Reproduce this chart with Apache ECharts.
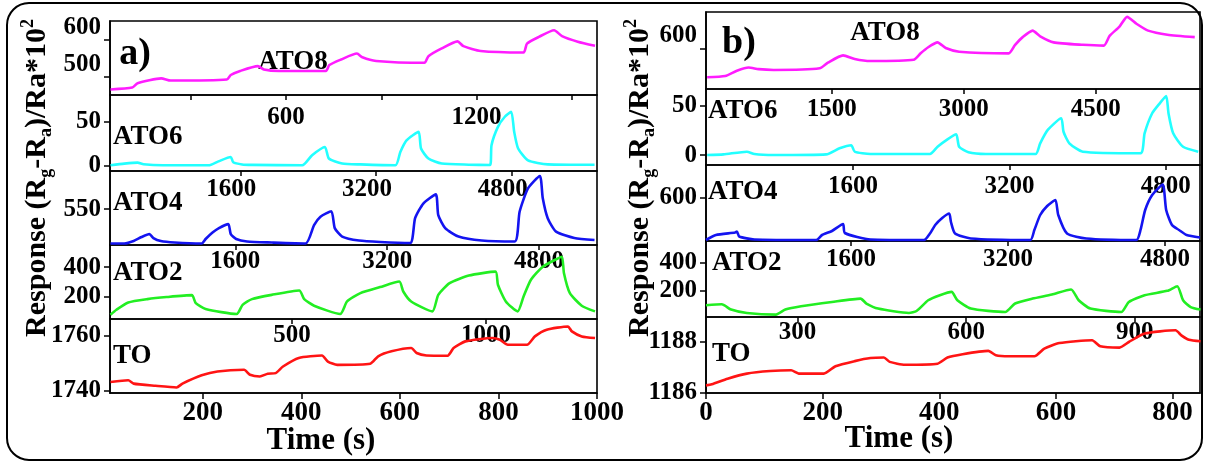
<!DOCTYPE html>
<html><head><meta charset="utf-8">
<script src="https://cdn.jsdelivr.net/npm/echarts@6/dist/echarts.min.js"></script>
<style>html,body{margin:0;padding:0;background:#fff}#c{width:1205px;height:462px}</style>
</head><body><div id="c"></div>
<script>
// ---------- data (time in s on the bottom axis, response values) ----------
const aATO8 = [[13,467],[57,472],[68,484],[116,497],[135,491],[249,494],[257,506],[276,517],[312,530],[324,521],[355,517],[450,517],[457,533],[481,548],[513,564],[524,554],[552,544],[650,539],[658,557],[685,578],[717,597],[729,584],[764,571],[851,567],[858,591],[882,609],[913,627],[929,611],[961,596],[996,585]];
const aATO6 = [[13,0.5],[41,2.4],[68,3.6],[80,1.7],[119,0.5],[212,0.5],[232,5],[257,10],[262,4],[280,1.5],[300,1],[402,0.5],[422,12],[448,21.4],[456,8.2],[483,2.5],[520,1.5],[591,0.5],[601,15.7],[614,29.1],[638,38.6],[643,19.6],[658,8.2],[685,2.5],[740,1.2],[783,0.8],[786,23.4],[799,44.3],[813,55.8],[826,61.5],[832,38.6],[840,19.6],[860,6.2],[900,1.6],[995,1.1]];
const aATO4 = [[13,481],[41,481],[60,486],[76,494],[92,500],[100,492],[115,486],[143,483],[198,481],[206,490],[220,503],[233,512],[252,520],[257,500],[268,490],[290,485],[340,483],[409,481],[426,518],[439,535],[461,546],[468,512],[483,495],[517,487],[560,484],[621,482],[631,532],[648,562],[673,580],[678,538],[692,512],[719,495],[766,487],[833,485],[843,545],[860,592],[884,617],[890,572],[900,532],[917,505],[954,492],[995,488]];
const aATO2 = [[13,75],[25,109],[49,159],[88,182],[127,196],[178,209],[186,155],[206,114],[269,80],[281,143],[300,182],[340,211],[396,241],[406,182],[426,137],[479,80],[493,166],[520,223],[560,264],[599,302],[607,234],[623,166],[666,98],[678,211],[701,291],[740,343],[794,370],[799,280],[815,166],[839,98],[851,200],[866,314],[890,404],[921,461],[929,472],[933,359],[945,223],[969,137],[996,98]];
const aTO = [[13,1743.2],[49,1743.8],[60,1742.6],[104,1741.8],[147,1741.2],[159,1742.6],[198,1745.6],[230,1747],[284,1747.6],[296,1745.8],[316,1745.2],[332,1746.2],[348,1746.4],[363,1748.8],[395,1751.9],[442,1752.8],[454,1750.6],[473,1749.4],[540,1749.8],[556,1752.5],[583,1754.3],[623,1755.5],[634,1753.7],[654,1752.8],[697,1752.7],[709,1755.5],[733,1757.9],[788,1759.1],[803,1758.5],[819,1756.7],[858,1756.7],[874,1759.7],[898,1762.1],[941,1763.3],[949,1761.5],[969,1759.7],[996,1759.1]];

const bATO8 = [[2,529],[33,532],[53,545],[73,553],[90,549],[116,547],[195,551],[209,565],[235,583],[255,574],[282,569],[356,572],[368,588],[381,603],[397,615],[411,601],[434,592],[519,588],[530,609],[543,628],[560,644],[573,630],[596,615],[646,609],[682,607],[692,631],[709,654],[722,678],[738,661],[758,644],[791,634],[838,628]];
const bATO6 = [[2,0.1],[30,0.8],[70,3.5],[83,1.1],[116,0.1],[206,0.8],[229,6.9],[249,10],[255,3.5],[282,1.1],[384,1.1],[397,8.5],[414,16],[429,21.1],[434,8.5],[450,2.9],[480,1.1],[565,1.1],[573,12],[586,25.5],[609,37.3],[613,23.7],[623,12],[646,3.5],[745,1.9],[752,22.1],[765,42.4],[778,52.5],[789,59.9],[793,42.4],[801,22.1],[818,8.5],[844,3.5]];
const bATO4 = [[0,515],[17,525],[50,530],[53,532],[57,522],[83,516],[189,515],[199,525],[216,533],[235,547],[238,529],[282,516],[374,515],[384,528],[393,545],[405,559],[417,568],[420,551],[427,528],[454,518],[556,515],[563,535],[573,565],[585,583],[599,595],[604,565],[619,528],[652,518],[738,515],[745,535],[753,575],[765,605],[783,626],[789,575],[799,545],[811,535],[824,525],[847,520]];
const bATO2 = [[0,94.5],[27,101.7],[43,63.8],[70,39.5],[120,28],[136,63.8],[163,87.4],[216,118],[265,142],[275,107],[295,71],[348,39.5],[361,53.8],[381,130],[401,166],[421,190],[431,130],[454,71],[513,46.6],[530,107],[560,142],[593,171],[626,207],[639,130],[659,71],[712,46.6],[725,118],[752,166],[791,197],[808,230],[818,130],[831,82],[848,64]];
const bTO = [[0,1186.3],[10,1186.34],[37,1186.56],[70,1186.76],[110,1186.86],[146,1186.89],[159,1186.76],[202,1186.76],[222,1187.05],[255,1187.25],[282,1187.37],[305,1187.39],[315,1187.22],[341,1187.11],[397,1187.15],[414,1187.39],[440,1187.52],[484,1187.65],[497,1187.48],[520,1187.44],[563,1187.44],[580,1187.74],[606,1187.96],[662,1188.07],[676,1187.83],[709,1187.78],[725,1188],[752,1188.33],[805,1188.46],[815,1188.26],[828,1188.09],[848,1188.03]];

// tick labels
const aTimeTicks = [200,400,600,800,1000];
const bTimeTicks = [0,200,400,600,800];
const aYTicks = [[500,600],[0,50],[550],[200,400],[1740,1760]];
const bYTicks = [[600],[0,50],[600],[200,400],[1186,1188]];
const aTopTicks = [null,[600,1200],[1600,3200,4800],[1600,3200,4800],[500,1000]];
const bTopTicks = [null,[1500,3000,4500],[1600,3200,4800],[1600,3200,4800],[300,600,900]];
const aTopMinor = [null,[300,600,900,1200,1500],null,null,null];
const names = ['ATO8','ATO6','ATO4','ATO2','TO'];
const colors = ['#ff1cff','#22ffff','#1414f0','#22ee22','#ff1414'];

// ---------- layout ----------
const FF = '"Liberation Serif","Times New Roman",serif';
const aRows = [[21,74],[95,76],[171,74],[245,74],[319,74]];
const bRows = [[12,77],[89,76],[165,76],[241,76],[317,76]];
const aYRange = [[452,652],[-6,80.6],[478,627],[46,552],[1739.2,1766]];
const bYRange = [[500,690],[-10,67],[513,665],[11,552],[1186,1188.98]];
const aTopRange = [null,[46,1579],[63,5806],[279,5411],[31,1286]];
const bTopRange = [null,[72,5686],[95,5151],[122,5158],[137,1016]];
const aTopMargin = [0,10,6,4,4];
const bTopMargin = [0,8,9,6,3];
const aTopShift = [0,0,18,0,0];
const bTopShift = [0,0,0,0,0];
const fmt = v => String(v);

const grids=[], xAxes=[], yAxes=[], series=[];
function addPanel(rows, left, width, xr, timeTicks, yr, yTicks, data){
  for(let i=0;i<5;i++){
    const gi = grids.length;
    grids.push({left:left, top:rows[i][0], width:width, height:rows[i][1], show:true, borderColor:'#000', borderWidth:1.6, backgroundColor:'transparent'});
    const last = i===4;
    xAxes.push({type:'value', gridIndex:gi, min:xr[0], max:xr[1], show:last, position:'bottom',
      axisLine:{show:true,lineStyle:{color:'#000',width:1.6}}, splitLine:{show:false},
      axisTick:{show:true, length:6, lineStyle:{color:'#000',width:1.5}, customValues:timeTicks},
      axisLabel:{show:true, customValues:timeTicks, formatter:fmt, color:'#000', fontFamily:FF, fontWeight:'bold', fontSize:27, margin:7}});
    yAxes.push({type:'value', gridIndex:gi, min:yr[i][0], max:yr[i][1],
      axisLine:{show:true,lineStyle:{color:'#000',width:1.6}}, splitLine:{show:false},
      axisTick:{show:true, length:6, lineStyle:{color:'#000',width:1.5}, customValues:yTicks[i]},
      axisLabel:{show:true, customValues:yTicks[i], formatter:fmt, color:'#000', fontFamily:FF, fontWeight:'bold', fontSize:25, margin:9,
        verticalAlign: i===0 ? 'bottom' : 'middle'}});
    series.push({type:'line', xAxisIndex:gi, yAxisIndex:gi, data:data[i], showSymbol:false, symbol:'none',
      smooth:0.2,
      lineStyle:{color:colors[i], width:2.6, join:'round'}, itemStyle:{color:colors[i]}, silent:true, animation:false});
  }
}
addPanel(aRows, 110, 487, [12,1000], aTimeTicks, aYRange, aYTicks, [aATO8,aATO6,aATO4,aATO2,aTO]);
addPanel(bRows, 706, 494, [0,847], bTimeTicks, bYRange, bYTicks, [bATO8,bATO6,bATO4,bATO2,bTO]);

// secondary (top) axes carrying the per-sample scale labels
function addTops(offset, topR, topT, topM, shift, extraTicks){
  for(let i=1;i<5;i++){
    const ticks = (extraTicks && extraTicks[i]) || topT[i];
    xAxes.push({type:'value', gridIndex:offset+i, min:topR[i][0], max:topR[i][1], position:'top',
      axisLine:{show:false}, splitLine:{show:false},
      axisTick:{show:true, inside:true, length:5, lineStyle:{color:'#000',width:1.5}, customValues:ticks},
      axisLabel:{show:true, inside:true, customValues:topT[i], formatter:fmt, color:'#000', fontFamily:FF, fontWeight:'bold', fontSize:25,
        margin:topM[i], padding:[0, shift[i], 0, 0]}});
  }
}
addTops(0, aTopRange, aTopTicks, aTopMargin, aTopShift, aTopMinor);
addTops(5, bTopRange, bTopTicks, bTopMargin, bTopShift, null);

// ---------- texts ----------
function label(txt, x, y, size, align){
  return {type:'text', x:x, y:y, silent:true, style:{text:txt, fill:'#000', font:'bold '+size+'px '+FF, align:align||'left', verticalAlign:'middle'}};
}
const graphics = [
  {type:'rect', shape:{x:7,y:3,width:1195,height:457,r:22}, style:{fill:'none', stroke:'#000', lineWidth:2}, silent:true},
  label('a)',135,54,38,'center'), label('b)',739,43,38,'center'),
  label(names[0],293,62,27,'center'), label(names[1],113,137,27), label(names[2],113,203,27), label(names[3],113,273,27), label(names[4],113,356,27),
  label(names[0],885,33,27,'center'), label(names[1],708,111,27), label(names[2],708,192,27), label(names[3],712,263,27), label(names[4],712,354,27),
  label('Time (s)',321,441,31,'center'), label('Time (s)',899,439,31,'center')
];
function yTitle(x){
  return {type:'text', x:x, y:178, rotation:Math.PI/2, silent:true,
    style:{text:'{n|Response (R}{s|g}{n|-R}{s|a}{n|)/Ra*10}{p|2}', align:'center', verticalAlign:'middle',
      rich:{
        n:{fontFamily:FF, fontWeight:'bold', fontSize:30, lineHeight:36, fill:'#000'},
        s:{fontFamily:FF, fontWeight:'bold', fontSize:18, lineHeight:14, verticalAlign:'bottom', fill:'#000'},
        p:{fontFamily:FF, fontWeight:'bold', fontSize:18, lineHeight:14, verticalAlign:'top', fill:'#000'}
      }}};
}
graphics.push(yTitle(37), yTitle(640));

const chart = echarts.init(document.getElementById('c'), null, {renderer:'canvas'});
chart.setOption({animation:false, grid:grids, xAxis:xAxes, yAxis:yAxes, series:series, graphic:graphics});
</script></body></html>
